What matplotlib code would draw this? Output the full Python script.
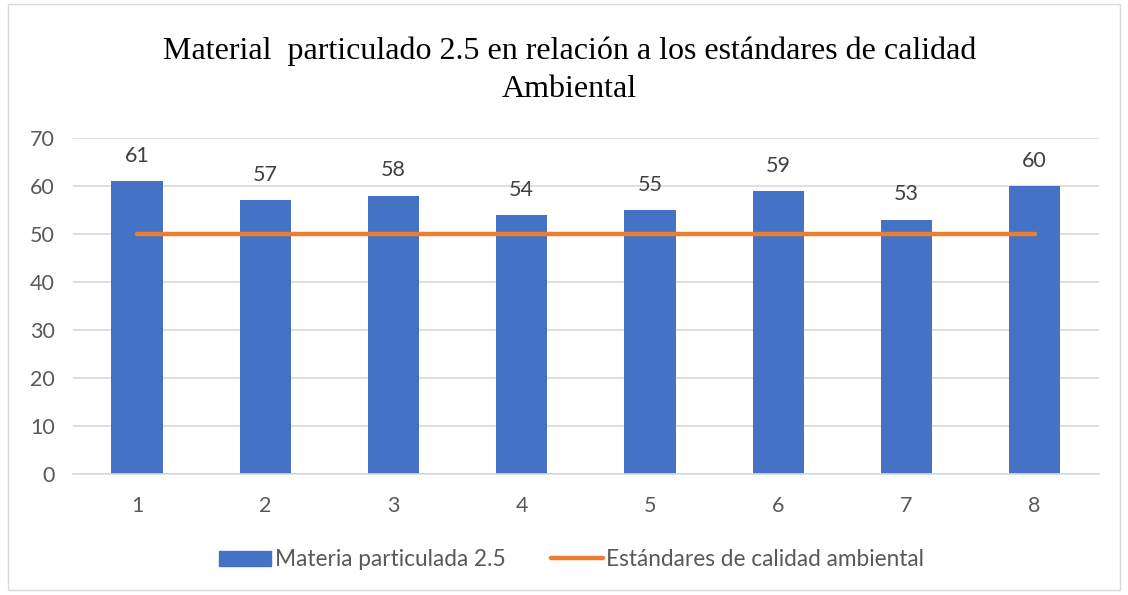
import matplotlib
matplotlib.use("Agg")
import matplotlib.pyplot as plt
from matplotlib.patches import Rectangle
from matplotlib.lines import Line2D

categories = ["1", "2", "3", "4", "5", "6", "7", "8"]
pm25 = [61, 57, 58, 54, 55, 59, 53, 60]
standard = [50, 50, 50, 50, 50, 50, 50, 50]
yticks = [0, 10, 20, 30, 40, 50, 60, 70]

BLUE = "#4472C4"
ORANGE = "#ED7D31"
GRAY = "#595959"
GRID = "#D9D9D9"
FONT = ["Lato", "DejaVu Sans"]

fig = plt.figure(figsize=(11.28, 5.95), dpi=100)
fig.patches.append(Rectangle((0.007, 0.008), 0.986, 0.985, transform=fig.transFigure,
                             fill=False, edgecolor=GRID, linewidth=1.0))
ax = fig.add_axes([0.0647, 0.2034, 0.9093, 0.5646])

x = list(range(len(categories)))
ax.bar(x, pm25, width=0.4, color=BLUE, zorder=2)
ax.plot(x, standard, color=ORANGE, linewidth=3.2, solid_capstyle="round", zorder=3)

for xi, v in zip(x, pm25):
    ax.annotate(str(v), (xi, v), xytext=(0, 11), textcoords="offset points",
                ha="center", va="bottom", fontsize=15.5, color="#404040", family=FONT)

ax.set_xlim(-0.5, len(categories) - 0.5)
ax.set_ylim(0, 70)
ax.set_yticks(yticks)
ax.set_xticks(x)
ax.set_xticklabels(categories)
ax.yaxis.grid(True, color=GRID, linewidth=1.2, zorder=0)
ax.set_axisbelow(True)
for s in ["top", "right", "left"]:
    ax.spines[s].set_visible(False)
ax.spines["bottom"].set_color(GRID)
ax.spines["bottom"].set_linewidth(1.2)
ax.tick_params(axis="both", length=0, labelsize=15.5, labelcolor=GRAY)
ax.tick_params(axis="x", pad=16)
ax.tick_params(axis="y", pad=13)
for lab in ax.get_xticklabels() + ax.get_yticklabels():
    lab.set_family(FONT)

fig.text(0.505, 0.882, "Material  particulado 2.5 en relación a los estándares de calidad\nAmbiental",
         ha="center", va="center", fontsize=23, family=["Liberation Serif", "DejaVu Serif"],
         color="black", linespacing=1.38)

handles = [Rectangle((0, 0), 1, 1, color=BLUE),
           Line2D([0], [0], color=ORANGE, linewidth=3.2, solid_capstyle="round")]
leg = fig.legend(handles, ["Materia particulada 2.5", "Estándares de calidad ambiental"],
                 loc="center", bbox_to_anchor=(0.507, 0.059), ncol=2, frameon=False,
                 prop={"family": FONT, "size": 16.3}, handlelength=2.3, handletextpad=0.15,
                 columnspacing=2.0)
for t in leg.get_texts():
    t.set_color(GRAY)

fig.savefig("out.png", dpi=100)
